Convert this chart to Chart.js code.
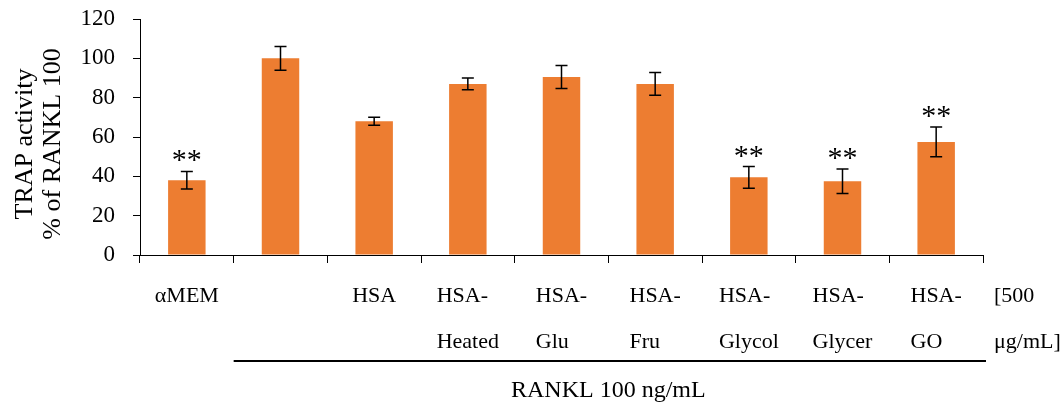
<!DOCTYPE html>
<html>
<head>
<meta charset="utf-8">
<script src="https://cdn.jsdelivr.net/npm/chart.js@4"></script>
<style>
  html, body { margin: 0; padding: 0; background: #fff; }
  #wrap { width: 1062px; height: 409px; }
</style>
</head>
<body>
<div id="wrap"><canvas id="c" width="1062" height="409"></canvas></div>
<script>
// Treatment groups (lines of each axis label)
const categoryLines = [
  ['αMEM'], [''], ['HSA'], ['HSA-', 'Heated'], ['HSA-', 'Glu'],
  ['HSA-', 'Fru'], ['HSA-', 'Glycol'], ['HSA-', 'Glycer'], ['HSA-', 'GO']
];
const categories = categoryLines.map(l => l.join(''));

// TRAP activity, % of RANKL 100, with error (±)
const trapActivity = [38, 100, 68, 87, 90.5, 87, 39.5, 37.5, 57.5];
const trapError    = [4.5, 6, 2, 3, 5.8, 5.8, 5.5, 6.2, 7.6];
const significance = ['**', '', '', '', '', '', '**', '**', '**'];

const yTicks = [0, 20, 40, 60, 80, 100, 120];
const yTitleLines = ['TRAP activity', '% of RANKL 100'];
const groupLabel = 'RANKL 100 ng/mL';
const doseLines = ['[500', 'μg/mL]'];

const SERIF = '"Liberation Serif", "Times New Roman", serif';

const annotate = {
  id: 'annotate',
  afterDatasetsDraw(chart) {
    const { ctx, scales: { x, y } } = chart;
    ctx.save();
    // error bars
    ctx.strokeStyle = '#000';
    ctx.lineWidth = 1.5;
    const cap = 6;
    trapActivity.forEach((v, i) => {
      const cx = x.getPixelForValue(i);
      const top = y.getPixelForValue(v + trapError[i]);
      const bot = y.getPixelForValue(v - trapError[i]);
      ctx.beginPath();
      ctx.moveTo(cx, top); ctx.lineTo(cx, bot);
      ctx.moveTo(cx - cap, top); ctx.lineTo(cx + cap, top);
      ctx.moveTo(cx - cap, bot); ctx.lineTo(cx + cap, bot);
      ctx.stroke();
      if (significance[i]) {
        ctx.fillStyle = '#000';
        ctx.font = '30px ' + SERIF;
        ctx.textAlign = 'center';
        ctx.textBaseline = 'alphabetic';
        ctx.fillText(significance[i], cx, top - 2);
      }
    });
    ctx.restore();
  },
  afterDraw(chart) {
    const { ctx, chartArea, scales: { x } } = chart;
    ctx.save();
    ctx.fillStyle = '#000';
    ctx.textBaseline = 'alphabetic';

    // category labels: block centred under the category, lines left-aligned
    ctx.font = '22px ' + SERIF;
    ctx.textAlign = 'left';
    const rowBase = [302, 348];
    categoryLines.forEach((lines, i) => {
      const cx = x.getPixelForValue(i);
      const w = Math.max(...lines.map(t => ctx.measureText(t).width));
      lines.forEach((t, r) => ctx.fillText(t, cx - w / 2, rowBase[r]));
    });
    // dose note at right
    doseLines.forEach((t, r) => ctx.fillText(t, chartArea.right + 11, rowBase[r]));

    // bracket under the RANKL-treated groups
    const left = (x.getPixelForValue(0) + x.getPixelForValue(1)) / 2;
    ctx.strokeStyle = '#000';
    ctx.lineWidth = 2;
    ctx.beginPath();
    ctx.moveTo(left, 361);
    ctx.lineTo(chartArea.right + 3, 361);
    ctx.stroke();

    ctx.font = '24px ' + SERIF;
    ctx.textAlign = 'center';
    ctx.fillText(groupLabel, (left + chartArea.right) / 2, 397);

    // y axis title
    ctx.font = '26px ' + SERIF;
    ctx.textBaseline = 'middle';
    ctx.translate(0, 144);
    ctx.rotate(-Math.PI / 2);
    ctx.fillText(yTitleLines[0], 0, 25);
    ctx.fillText(yTitleLines[1], 0, 53);
    ctx.restore();
  }
};

new Chart(document.getElementById('c'), {
  type: 'bar',
  data: {
    labels: categories,
    datasets: [{
      data: trapActivity,
      backgroundColor: '#ED7D31',
      borderWidth: 0,
      barPercentage: 0.4,
      categoryPercentage: 1.0
    }]
  },
  options: {
    responsive: false,
    animation: false,
    layout: { padding: { top: 19, right: 79, left: 0, bottom: 0 } },
    plugins: { legend: { display: false }, tooltip: { enabled: false } },
    scales: {
      x: {
        afterFit(s) { s.height = 154; },
        border: { color: '#000', width: 1 },
        grid: { drawOnChartArea: false, drawTicks: true, tickLength: 8, color: '#000', offset: true },
        ticks: { display: false }
      },
      y: {
        min: 0, max: 120,
        afterFit(s) { s.width = 140; s.paddingTop = 0; s.paddingBottom = 0; },
        afterBuildTicks(s) { s.ticks = yTicks.map(v => ({ value: v })); },
        border: { color: '#000', width: 1 },
        grid: { drawOnChartArea: false, drawTicks: true, tickLength: 7, color: '#000' },
        ticks: {
          color: '#000',
          padding: 18,
          font: { family: SERIF, size: 23 }
        }
      }
    }
  },
  plugins: [annotate]
});
</script>
</body>
</html>
